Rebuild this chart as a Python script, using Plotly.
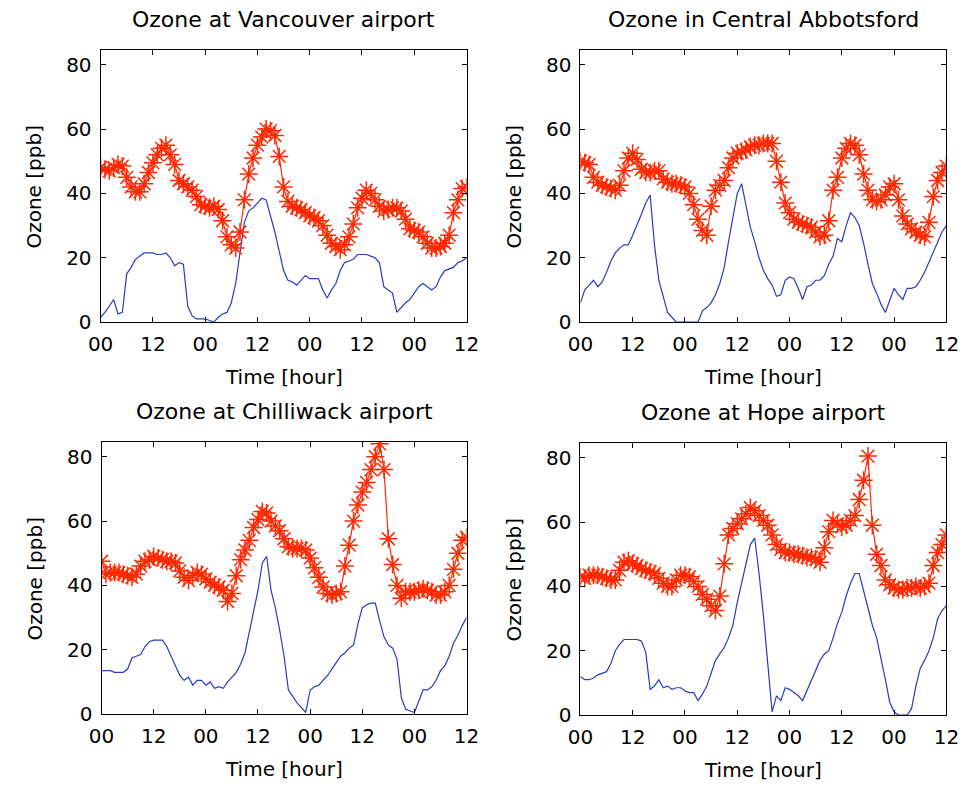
import plotly.graph_objects as go

hours = list(range(0, 85))
tick_vals = [0, 12, 24, 36, 48, 60, 72, 84]
tick_text = ["00", "12", "00", "12", "00", "12", "00", "12"]
y_ticks = [0, 20, 40, 60, 80]

titles = ["Ozone at Vancouver airport", "Ozone in Central Abbotsford",
          "Ozone at Chilliwack airport", "Ozone at Hope airport"]

van_red = [48, 47.5, 47, 48, 49, 48.5, 45, 42, 40.5, 40.5, 43, 46.5, 49.5, 52, 54, 55, 52, 49, 44, 43,
           42, 41, 39, 36.5, 36, 35.5, 36, 35, 31.5, 26.5, 24, 23, 28, 38, 46, 51, 55, 57.5, 60, 59.5,
           58, 51.5, 42, 37.5, 36, 35.5, 35, 34, 33, 32.5, 31.5, 30, 27, 24.5, 23.5, 22.5, 24, 26.5, 30.5, 35.5,
           38.5, 41, 40, 38, 36, 34.5, 35, 35.5, 35.5, 34.5, 32, 29, 28.5, 28, 26.5, 24.5, 23, 23, 23.5, 24.5,
           27, 34, 38, 41.5, 42]
van_blue = [1.5, 3, 5, 7, 2.5, 3, 15, 17, 19.5, 20.5, 21.5, 21.5, 21.5, 21, 21, 21.5, 20, 17.5, 18.5, 18,
            5, 2, 1, 1, 1, 0.5, 0, 1.5, 2.5, 3, 6, 12, 22, 31, 34.5, 35.5, 37, 38.5, 38, 33,
            28, 22, 16, 13, 12.5, 11.5, 13, 14.5, 13.5, 13.5, 13.5, 10, 7.5, 10, 12, 16, 18.5, 19, 19.5, 21,
            21, 21, 20.5, 20, 18.5, 11, 10, 9, 3, 4.5, 6, 7, 9, 11, 12, 11, 10, 11, 14, 16,
            16.5, 17, 18.5, 19, 20]

abb_red = [50, 49.5, 49, 45, 43.5, 42.5, 42, 41.5, 41, 42.5, 47, 51, 52.5, 50.5, 47.5, 46.5, 46.5, 47, 47, 44.5,
           43.5, 43, 43, 42.5, 42, 40, 36.5, 32, 28.5, 27, 36, 41, 42.5, 44, 48, 51, 52.5, 53, 53.5, 54.5,
           55, 55, 55.5, 55.5, 55.5, 50, 43.5, 37, 34, 32, 31, 30.5, 30, 29.5, 28, 26.5, 27, 31.5, 41, 45,
           51, 54, 55.5, 55, 52, 46, 41, 38, 37.5, 38, 39.5, 42, 43, 38, 33, 30.5, 29, 28, 27, 26.5,
           31, 39, 44, 46.5, 48.5]
abb_blue = [6, 10, 11.5, 13, 11, 12.5, 15.5, 19, 21.5, 23, 24, 24, 27, 30, 33.5, 37, 39.5, 24, 13, 8,
            3, 1.5, 0, 0, 0, 0, 0, 0, 3.5, 4.5, 6, 8.5, 12, 17, 25, 32, 40, 43, 36, 29.5,
            25, 20, 16, 13.5, 11.5, 8, 8.5, 13, 14, 13.5, 10.5, 7, 11, 11.5, 13, 13, 14.5, 18, 20.5, 26,
            25, 30, 34, 32.5, 30, 24.5, 18, 12, 9, 5.5, 3, 6.5, 10.5, 8.5, 7, 10.5, 10.5, 11, 13, 15.5,
            18.5, 22, 25, 28, 30]

chi_red = [47.5, 43.5, 44, 44, 44, 43.5, 43, 42.5, 43.5, 46, 47.5, 48, 49, 48.5, 48, 47.5, 47.5, 47, 44.5, 42.5,
           41.5, 43, 44, 43.5, 42, 41, 40, 39.5, 38.5, 35, 37.5, 43, 48, 51, 54, 58, 60.5, 63, 62.5, 60,
           58.5, 57, 54.5, 52, 51.5, 51.5, 51.5, 51, 48.5, 45.5, 42.5, 39.5, 37.5, 37, 37.5, 38, 46, 52.5, 60, 65,
           69, 72, 76, 80, 84, 76, 54.5, 46.5, 40, 36, 38, 38, 38, 38.5, 39, 38.5, 38, 37, 37, 38,
           40, 45, 50, 54, 55]
chi_blue = [13.5, 13.5, 13.5, 13, 13, 13, 14, 17.5, 18, 18.5, 21, 22.5, 23, 23, 23, 21, 18, 14.5, 12, 10.5,
            11.5, 9, 10.5, 10.5, 9, 10, 8, 8.5, 8, 10, 11.5, 13, 15.5, 19, 25.5, 31.5, 38.5, 47, 49, 38.5,
            33, 26, 18, 7.5, 5.5, 3.5, 2, 0.5, 7.5, 8.5, 9, 10.5, 12, 14, 16, 18, 19, 20.5, 21.5, 28,
            33, 34, 34.5, 34.5, 29, 24, 21.5, 20.5, 17, 5, 1.5, 1, 0.5, 4, 7.5, 7.5, 8.5, 10.5, 13.5, 15,
            18, 22, 24.5, 27.5, 30]

hope_red = [43, 42.5, 43.5, 43.5, 43.5, 43, 42.5, 42, 42, 45, 47.5, 48, 47, 46.5, 45.5, 45, 44.5, 44, 42.5, 41,
            40, 40, 42, 43.5, 43.5, 43, 41.5, 40, 37.5, 36, 34, 32.5, 37, 47, 56, 58, 59.5, 61, 62.5, 64.5,
            63.5, 62, 60.5, 59, 56, 53, 51.5, 50.5, 50.5, 50, 50, 49.5, 49, 49, 48.5, 47.5, 52, 57, 60.5, 59.5,
            58.5, 59, 60.5, 62, 67, 73, 80.5, 59, 50, 46.5, 42, 40.5, 39.5, 39, 39, 39.5, 39.5, 40, 39.5, 40,
            41, 46.5, 50.5, 53, 56]
hope_blue = [12, 11, 11, 11.5, 12.5, 13, 13.5, 16, 20, 22, 23.5, 23.5, 23.5, 23.5, 23, 19.5, 8, 9, 11, 8.5,
             9, 8, 8.5, 8.5, 7.5, 7, 7, 4.5, 6.5, 9, 13, 17, 19, 21, 24, 28, 35, 41, 46, 53,
             55, 44, 31, 16, 1, 6, 4.5, 8.5, 8, 7, 6, 4.5, 7.5, 11, 14, 17, 19, 20, 24, 28.5,
             32, 37, 41, 44, 44, 38.5, 33, 28, 24, 18, 11, 4, 1, 0, 0, 0, 2, 9, 14.5, 17,
             20, 24, 30, 32.5, 34]

reds = [van_red, abb_red, chi_red, hope_red]
blues = [van_blue, abb_blue, chi_blue, hope_blue]

W, H = 973, 798
RED = "rgb(255,40,0)"
BLUE = "rgb(40,60,190)"
FONT = "DejaVu Sans"

# plot-area pixel boxes (left, right, top, bottom)
boxes = [(90, 466, 51, 327), (583, 959, 51, 327),
         (91, 466, 449, 725), (583, 959, 450, 726)]

fig = go.Figure()
annotations = []
for i in range(4):
    l, r, t, b = boxes[i]
    xa = "x" if i == 0 else f"x{i+1}"
    ya = "y" if i == 0 else f"y{i+1}"
    fig.add_trace(go.Scatter(x=hours, y=blues[i], mode="lines",
                             line=dict(color=BLUE, width=1.2), xaxis=xa, yaxis=ya,
                             showlegend=False, hoverinfo="skip"))
    fig.add_trace(go.Scatter(x=hours, y=reds[i], mode="lines+markers",
                             line=dict(color=RED, width=1.2),
                             marker=dict(symbol="asterisk-open", size=15,
                                         line=dict(color=RED, width=1.5)),
                             xaxis=xa, yaxis=ya, showlegend=False, hoverinfo="skip"))
    axkw = dict(showline=True, linecolor="black", linewidth=1, mirror="allticks",
                ticks="inside", ticklen=5, tickcolor="black", showgrid=False,
                zeroline=False, tickfont=dict(family=FONT, size=20, color="black"))
    fig.layout["xaxis" if i == 0 else f"xaxis{i+1}"] = dict(
        domain=[l / W, r / W], range=[0, 84], anchor=ya, ticklabelstandoff=4,
        tickmode="array", tickvals=tick_vals, ticktext=tick_text, **axkw)
    fig.layout["yaxis" if i == 0 else f"yaxis{i+1}"] = dict(
        domain=[1 - b / H, 1 - t / H], range=[0, 84.5], anchor=xa, ticklabelstandoff=4,
        tickmode="array", tickvals=y_ticks, **axkw)
    cx = (l + r) / 2 / W
    annotations.append(dict(text=titles[i], x=cx, y=1 - (t - 31) / H, xref="paper", yref="paper",
                            showarrow=False, font=dict(family=FONT, size=22, color="black"),
                            xanchor="center", yanchor="middle"))
    annotations.append(dict(text="Time [hour]", x=cx, y=1 - (b + 56) / H, xref="paper", yref="paper",
                            showarrow=False, font=dict(family=FONT, size=20, color="black"),
                            xanchor="center", yanchor="middle"))
    annotations.append(dict(text="Ozone [ppb]", x=(l - 68) / W, y=1 - (t + b) / 2 / H,
                            xref="paper", yref="paper", textangle=-90,
                            showarrow=False, font=dict(family=FONT, size=20, color="black"),
                            xanchor="center", yanchor="middle"))

fig.update_layout(width=W, height=H, margin=dict(l=0, r=0, t=0, b=0),
                  paper_bgcolor="white", plot_bgcolor="white",
                  annotations=annotations)
fig.write_html("out.html",
               post_script="document.body.style.margin='0';document.body.style.overflow='hidden';")
